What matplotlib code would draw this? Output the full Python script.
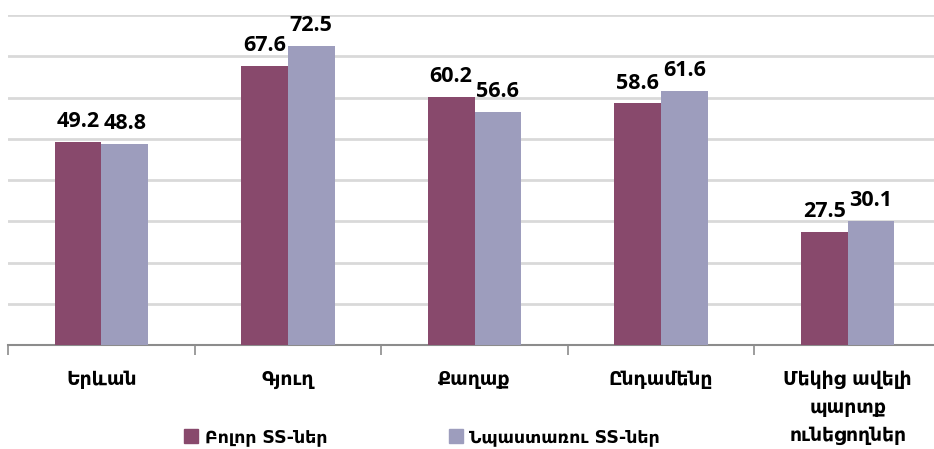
import matplotlib
matplotlib.use("Agg")
import matplotlib.pyplot as plt
import numpy as np
from matplotlib.patches import Patch

categories = ["Երևան", "Գյուղ", "Քաղաք", "Ընդամենը", "Մեկից ավելի\nպարտք\nունեցողներ"]
series_names = ["Բոլոր SS-ներ", "Նպաստառու SS-ներ"]
all_ss = [49.2, 67.6, 60.2, 58.6, 27.5]
benef_ss = [48.8, 72.5, 56.6, 61.6, 30.1]
colors = ["#88496C", "#9D9DBD"]

plt.rcParams['font.family'] = ['DejaVu Sans']

W, H = 934, 449
fig = plt.figure(figsize=(W/100, H/100), dpi=100)
ax = fig.add_axes([8/W, 1-345/H, 933/W, 330/H])

x = np.arange(len(categories))
bw = 0.25
b1 = ax.bar(x - bw/2, all_ss, bw, color=colors[0], zorder=3, label=series_names[0])
b2 = ax.bar(x + bw/2, benef_ss, bw, color=colors[1], zorder=3, label=series_names[1])

for bars, vals in ((b1, all_ss), (b2, benef_ss)):
    for r, v in zip(bars, vals):
        ax.annotate(f"{v:.1f}", (r.get_x() + r.get_width()/2, v),
                    xytext=(0, 7), textcoords="offset points",
                    ha="center", va="bottom", fontsize=15.5, fontweight="bold",
                    color="black", family=["Open Sans", "DejaVu Sans"])

ax.set_xlim(-0.5, len(categories) - 0.5)
ax.set_ylim(0, 80)
ax.set_yticks(np.arange(10, 81, 10))
ax.yaxis.grid(True, color="#D9D9D9", linewidth=2, zorder=0)
ax.tick_params(axis="y", left=False, labelleft=False)
for s in ("left", "right", "top"):
    ax.spines[s].set_visible(False)
ax.spines["bottom"].set_color("#8C8C8C")
ax.spines["bottom"].set_linewidth(1.5)

ax.set_xticks(np.arange(-0.5, len(categories), 1.0), minor=False)
ax.set_xticklabels([])
ax.tick_params(axis="x", length=7, color="#8C8C8C", width=1.2, direction="out")
ax.set_xticks(x, minor=True)
ax.set_xticklabels(categories, minor=True, fontsize=13.5, fontweight="bold",
                   linespacing=1.6, va="top")
ax.tick_params(axis="x", which="minor", length=0, pad=18)

handles = [Patch(color=colors[0]), Patch(color=colors[1])]
fig.legend(handles, series_names, loc="center", bbox_to_anchor=(422/W, 1-437/H),
           ncol=2, frameon=False, handlelength=0.8, handleheight=0.8,
           handletextpad=0.4, columnspacing=7,
           prop={"weight": "bold", "size": 12.5})

fig.savefig("out.png", dpi=100)
